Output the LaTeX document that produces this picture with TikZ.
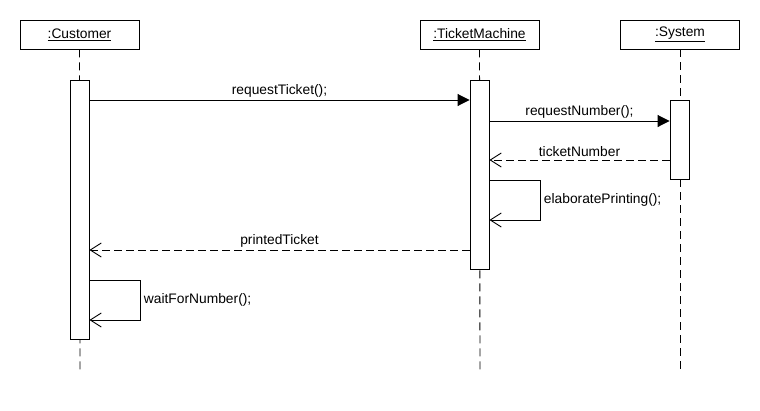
\documentclass[tikz,border=0pt]{standalone}
\usepackage{fontspec}
\setmainfont{Liberation Sans}
\usetikzlibrary{arrows.meta,calc}
\begin{document}
\begin{tikzpicture}[x=1pt,y=-1pt,line width=0.9pt,
  font=\fontsize{13.8}{16}\selectfont,
  obj/.style={draw,fill=white,minimum width=119pt,minimum height=29pt,inner sep=0pt},
  act/.style={draw,fill=white,minimum width=19pt,inner sep=0pt},
  life/.style={dash pattern=on 8pt off 5pt},
  sync/.style={-{Triangle[length=12pt,width=12pt]}},
  reply/.style={dash pattern=on 8pt off 4pt,-{Straight Barb[length=11pt,width=14pt]}},
  self/.style={-{Straight Barb[length=11pt,width=14pt]}},
  lbl/.style={inner sep=2.5pt},
  slbl/.style={inner sep=3.5pt}]
\useasboundingbox (0,0) rectangle (760,410);
% objects
\node[obj] (cust) at (79.5,34.5) {\underline{:Customer}};
\node[obj] (tm) at (479.5,34.5) {\underline{:TicketMachine}};
\node[obj] (sys) at (680,34.5) {\underline{:System}};
% lifeline ends
\coordinate (custE) at (80,370);
\coordinate (tmE) at (480,370);
\coordinate (sysE) at (680,370);
\draw[life] (cust.south) -- (custE);
\draw[life] (tm.south) -- (tmE);
\draw[life] (sys.south) -- (sysE);
% activations
\node[act,minimum height=259pt] (custA) at (79.5,209.5) {};
\node[act,minimum height=189pt] (tmA) at (479.5,174.5) {};
\node[act,minimum height=79pt] (sysA) at (679.5,139.5) {};
% message rows
\coordinate (r1) at (0,100);
\coordinate (r2) at (0,121);
\coordinate (r3) at (0,160);
\coordinate (r4a) at (540,180);
\coordinate (r4b) at (540,220);
\coordinate (r5) at (0,250);
\coordinate (r6a) at (140,280);
\coordinate (r6b) at (140,320);
% messages
\draw[sync] (custA.east |- r1) -- node[lbl,above] {requestTicket();} (tmA.west |- r1);
\draw[sync] (tmA.east |- r2) -- node[lbl,above] {requestNumber();} (sysA.west |- r2);
\draw[reply] (sysA.west |- r3) -- node[lbl,above] {ticketNumber} (tmA.east |- r3);
\draw[self] (tmA.east |- r4a) -- (r4a) -- node[slbl,right] {elaboratePrinting();} (r4b) -- (tmA.east |- r4b);
\draw[reply] (tmA.west |- r5) -- node[lbl,above] {printedTicket} (custA.east |- r5);
\draw[self] (custA.east |- r6a) -- (r6a) -- node[slbl,right] {waitForNumber();} (r6b) -- (custA.east |- r6b);
\end{tikzpicture}
\end{document}
